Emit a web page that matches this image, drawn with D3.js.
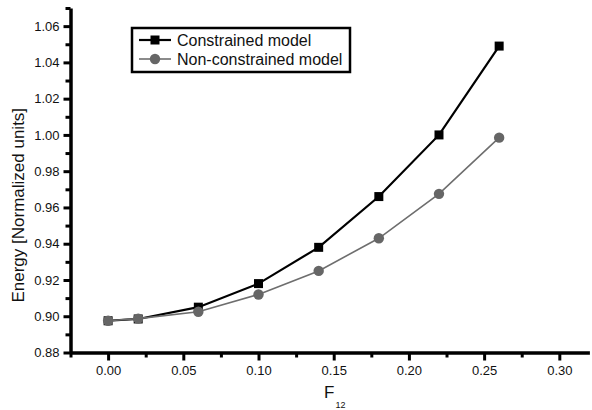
<!DOCTYPE html>
<html>
<head>
<meta charset="utf-8">
<script src="https://cdn.jsdelivr.net/npm/d3@7"></script>
<style>
  html, body { margin: 0; padding: 0; background: #fff; }
  svg { display: block; font-family: "Liberation Sans", Arial, sans-serif; }
</style>
</head>
<body>
<svg id="chart" width="592" height="410"></svg>
<script>
const xValues = [0.00, 0.02, 0.06, 0.10, 0.14, 0.18, 0.22, 0.26];
const constrained = [0.8975, 0.8985, 0.905, 0.918, 0.938, 0.966, 1.000, 1.049];
const nonConstrained = [0.8975, 0.8987, 0.9025, 0.912, 0.925, 0.943, 0.9675, 0.9985];
const xTicks = [0.00, 0.05, 0.10, 0.15, 0.20, 0.25, 0.30];
const xMinorTicks = [-0.025, 0.025, 0.075, 0.125, 0.175, 0.225, 0.275];
const yTicks = [0.88, 0.90, 0.92, 0.94, 0.96, 0.98, 1.00, 1.02, 1.04, 1.06];
const yMinorTicks = [0.89, 0.91, 0.93, 0.95, 0.97, 0.99, 1.01, 1.03, 1.05, 1.07];
const seriesNames = ["Constrained model", "Non-constrained model"];

const svg = d3.select("#chart");
const W = 592, H = 410;
const margin = {left: 70.5, top: 8, right: 2.6, bottom: 57.5};

const x = d3.scaleLinear().domain([-0.025, 0.32]).range([margin.left, W - margin.right]);
const y = d3.scaleLinear().domain([0.88, 1.07]).range([H - margin.bottom, margin.top]);

// Minor ticks
svg.append("g")
  .attr("transform", `translate(0,${H - margin.bottom})`)
  .call(d3.axisBottom(x).tickValues(xMinorTicks).tickSize(5).tickFormat(""))
  .call(g => g.select(".domain").remove())
  .call(g => g.selectAll("line").attr("stroke", "#000").attr("stroke-width", 3));
svg.append("g")
  .attr("transform", `translate(${margin.left},0)`)
  .call(d3.axisLeft(y).tickValues(yMinorTicks).tickSize(5).tickFormat(""))
  .call(g => g.select(".domain").remove())
  .call(g => g.selectAll("line").attr("stroke", "#000").attr("stroke-width", 3));

// Major axes
const xAxis = svg.append("g")
  .attr("transform", `translate(0,${H - margin.bottom})`)
  .call(d3.axisBottom(x).tickValues(xTicks).tickSize(8).tickSizeOuter(0).tickPadding(5).tickFormat(d3.format(".2f")));
xAxis.select(".domain").attr("stroke", "#000").attr("stroke-width", 3.5);
xAxis.selectAll("line").attr("stroke", "#000").attr("stroke-width", 3);
xAxis.selectAll("text").attr("font-size", 13).attr("fill", "#111")
  .attr("font-family", "'Liberation Sans', Arial, sans-serif");

const yAxis = svg.append("g")
  .attr("transform", `translate(${margin.left},0)`)
  .call(d3.axisLeft(y).tickValues(yTicks).tickSize(7).tickSizeOuter(0).tickPadding(4).tickFormat(d3.format(".2f")));
yAxis.select(".domain").attr("stroke", "#000").attr("stroke-width", 3.5);
yAxis.selectAll("line").attr("stroke", "#000").attr("stroke-width", 3);
yAxis.selectAll("text").attr("font-size", 13).attr("fill", "#111")
  .attr("font-family", "'Liberation Sans', Arial, sans-serif");

// Axis titles
svg.append("text")
  .attr("transform", `translate(24,${(y(0.88) + y(1.07)) / 2 + 25}) rotate(-90)`)
  .attr("text-anchor", "middle")
  .attr("font-size", 17)
  .attr("fill", "#111")
  .text("Energy [Normalized units]");

const xt = svg.append("text")
  .attr("x", 324).attr("y", 398)
  .attr("font-size", 17)
  .attr("fill", "#111");
xt.append("tspan").text("F");
xt.append("tspan").attr("dy", 10).attr("dx", 1).attr("font-size", 9).text("12");

const line = d3.line().x(d => x(d[0])).y(d => y(d[1]));
const dataC = xValues.map((v, i) => [v, constrained[i]]);
const dataN = xValues.map((v, i) => [v, nonConstrained[i]]);

// Constrained series
svg.append("path").datum(dataC).attr("d", line)
  .attr("fill", "none").attr("stroke", "#000").attr("stroke-width", 2.2);
svg.selectAll(".sq").data(dataC).enter().append("rect")
  .attr("x", d => x(d[0]) - 4.5).attr("y", d => y(d[1]) - 4.5)
  .attr("width", 9).attr("height", 9).attr("fill", "#000");

// Non-constrained series
svg.append("path").datum(dataN).attr("d", line)
  .attr("fill", "none").attr("stroke", "#6e6e6e").attr("stroke-width", 1.6);
svg.selectAll(".ci").data(dataN).enter().append("circle")
  .attr("cx", d => x(d[0])).attr("cy", d => y(d[1])).attr("r", 5.2)
  .attr("fill", "#666");

// Legend
const lg = svg.append("g");
lg.append("rect").attr("x", 132).attr("y", 28).attr("width", 218).attr("height", 44)
  .attr("fill", "#fff").attr("stroke", "#000").attr("stroke-width", 2.5);
const rows = [
  {name: seriesNames[0], color: "#000", sw: 2.2, shape: "square", cy: 40},
  {name: seriesNames[1], color: "#6e6e6e", sw: 1.6, shape: "circle", cy: 59}
];
rows.forEach(r => {
  lg.append("line").attr("x1", 139).attr("x2", 171).attr("y1", r.cy).attr("y2", r.cy)
    .attr("stroke", r.color).attr("stroke-width", r.sw);
  if (r.shape === "square") {
    lg.append("rect").attr("x", 150.5).attr("y", r.cy - 4.5).attr("width", 9).attr("height", 9).attr("fill", "#000");
  } else {
    lg.append("circle").attr("cx", 155).attr("cy", r.cy).attr("r", 5.2).attr("fill", "#666");
  }
  lg.append("text").attr("x", 177).attr("y", r.cy + 5.5).attr("font-size", 16).attr("fill", "#111").text(r.name);
});
</script>
</body>
</html>
